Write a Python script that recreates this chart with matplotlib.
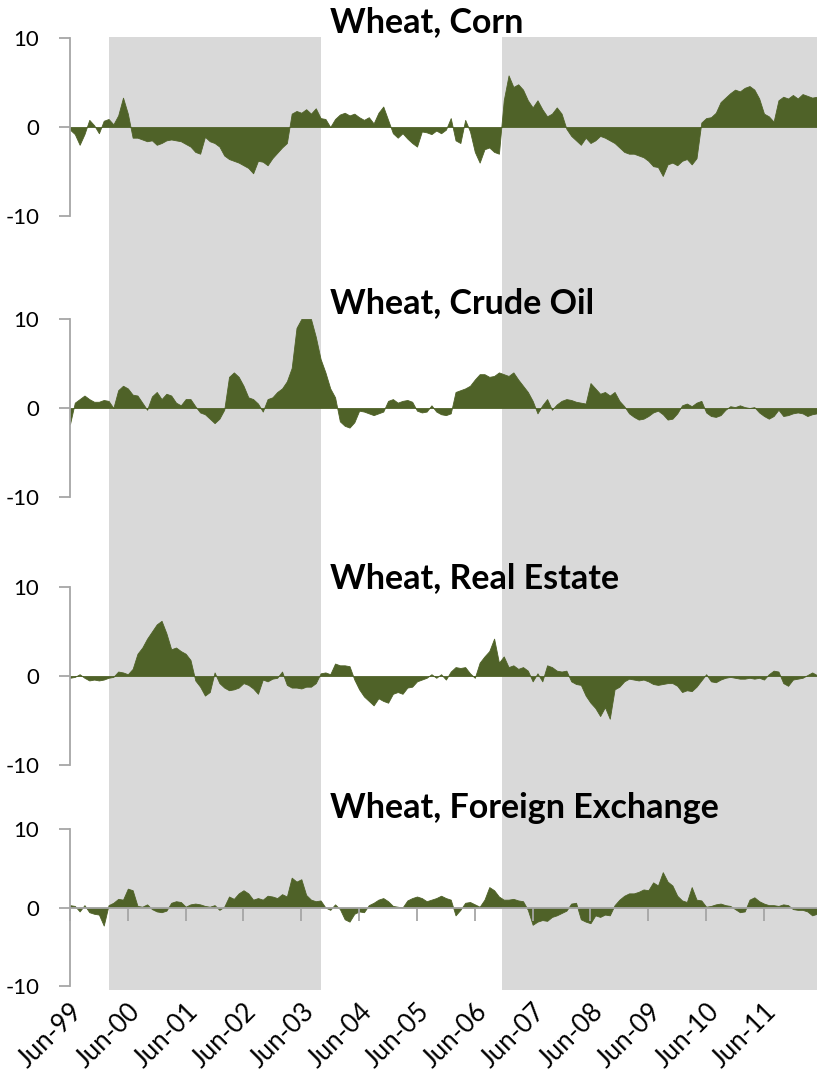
import numpy as np
import matplotlib
matplotlib.use("Agg")
import matplotlib.pyplot as plt

plt.rcParams["font.family"] = ["Lato", "DejaVu Sans"]
plt.rcParams["axes.unicode_minus"] = False

# months since Jun-99 (monthly readings)
months = np.arange(156)

corn = [
    -0.3, -0.8, -2.0, -0.8, 0.8, 0.2, -0.7, 0.7, 0.9, 0.3, 1.3, 3.3, 1.5, -1.2, -1.2, -1.4,
    -1.6, -1.5, -2.0, -1.8, -1.5, -1.4, -1.5, -1.6, -1.9, -2.2, -2.8, -3.0, -1.1, -1.6, -1.8, -2.2,
    -3.2, -3.6, -3.8, -4.0, -4.3, -4.6, -5.2, -3.8, -3.9, -4.3, -3.5, -2.9, -2.3, -1.8, 1.5, 1.8,
    1.6, 2.0, 1.5, 2.1, 1.0, 0.9, 0.0, 0.9, 1.4, 1.6, 1.3, 1.5, 1.1, 0.8, 1.1, 0.4,
    1.6, 2.3, 0.8, -0.7, -1.2, -0.7, -1.3, -1.8, -2.2, -0.5, -0.6, -0.8, -0.4, -0.7, -0.3, 1.0,
    -1.5, -1.8, 0.8, -0.5, -2.8, -4.0, -2.5, -2.3, -2.8, -3.0, 3.0, 5.8, 4.5, 4.8, 4.2, 3.0,
    2.2, 3.0, 2.0, 1.2, 1.5, 2.2, 1.5, -0.2, -1.0, -1.5, -2.0, -1.2, -1.8, -1.5, -1.0, -1.2,
    -1.5, -1.8, -2.3, -2.8, -3.0, -3.0, -3.2, -3.4, -3.8, -4.4, -4.5, -5.5, -4.2, -4.0, -4.3, -3.8,
    -3.6, -4.2, -3.5, 0.5, 1.0, 1.1, 1.6, 2.8, 3.3, 3.8, 4.2, 4.0, 4.4, 4.6, 4.2, 3.2,
    1.5, 1.2, 0.6, 3.0, 3.4, 3.2, 3.6, 3.2, 3.7, 3.5, 3.3, 3.4,
]

crude_oil = [
    -1.8, 0.6, 1.0, 1.4, 1.0, 0.7, 0.7, 0.9, 0.8, 0.0, 2.0, 2.5, 2.2, 1.5, 1.4, 0.6,
    -0.2, 1.3, 1.8, 1.0, 1.6, 1.4, 0.6, 0.3, 1.0, 1.0, 0.2, -0.5, -0.7, -1.2, -1.7, -1.2,
    -0.2, 3.5, 4.0, 3.5, 2.5, 1.2, 1.0, 0.5, -0.4, 1.0, 1.2, 1.8, 2.2, 3.0, 4.5, 9.0,
    10.0, 10.0, 10.0, 8.0, 5.5, 4.0, 2.2, 1.2, -1.5, -2.0, -2.2, -1.6, -0.3, -0.4, -0.6, -0.8,
    -0.6, -0.4, 0.8, 1.0, 0.6, 0.8, 0.9, 0.7, -0.3, -0.5, -0.4, 0.3, -0.4, -0.7, -0.8, -0.6,
    1.8, 2.0, 2.2, 2.5, 3.2, 3.8, 3.8, 3.5, 3.6, 4.0, 3.8, 3.6, 4.0, 3.2, 2.5, 1.8,
    0.8, -0.6, 0.3, 1.0, -0.2, 0.4, 0.8, 1.0, 0.9, 0.7, 0.6, 0.5, 2.8, 2.2, 1.6, 1.8,
    1.4, 1.8, 0.8, 0.2, -0.6, -1.0, -1.3, -1.2, -0.9, -0.5, -0.3, -0.7, -1.3, -1.2, -0.6, 0.3,
    0.5, 0.2, 0.6, 0.8, -0.5, -0.9, -1.0, -0.8, -0.2, 0.2, 0.1, 0.3, 0.1, 0.0, 0.1, -0.5,
    -0.9, -1.2, -0.9, -0.2, -0.9, -0.8, -0.6, -0.5, -0.6, -0.9, -0.7, -0.6,
]

real_estate = [
    -0.2, -0.1, 0.2, -0.2, -0.5, -0.4, -0.5, -0.4, -0.2, -0.1, 0.5, 0.4, 0.2, 0.8, 2.5, 3.2,
    4.2, 5.0, 5.8, 6.2, 4.8, 3.0, 3.2, 2.8, 2.5, 1.8, -0.5, -1.2, -2.2, -1.8, 0.4, -0.8,
    -1.3, -1.6, -1.5, -1.3, -0.8, -1.0, -1.4, -2.0, -0.4, -0.6, -0.3, -0.2, 0.5, -1.0, -1.3, -1.3,
    -1.4, -1.2, -1.2, -0.8, 0.3, 0.4, 0.2, 1.4, 1.2, 1.2, 1.1, -0.4, -1.5, -2.3, -2.8, -3.3,
    -2.5, -2.8, -3.0, -2.0, -1.8, -2.0, -1.3, -1.2, -0.6, -0.4, -0.2, 0.2, -0.2, 0.2, -0.4, 0.5,
    1.0, 0.9, 1.0, 0.3, -0.2, 1.5, 2.2, 2.8, 4.2, 1.5, 2.2, 1.0, 1.2, 0.8, 1.0, 0.6,
    -0.6, 0.3, -0.6, 1.2, 1.0, 0.6, 0.5, 0.6, -0.6, -0.9, -1.0, -2.2, -3.0, -3.6, -4.5, -3.5,
    -4.8, -1.5, -1.2, -0.6, -0.3, -0.4, -0.5, -0.4, -0.6, -0.9, -1.0, -0.9, -0.8, -0.8, -1.1, -1.8,
    -1.6, -1.7, -1.2, -0.5, 0.2, -0.6, -0.7, -0.4, -0.2, -0.1, -0.2, -0.3, -0.3, -0.2, -0.3, -0.2,
    -0.4, 0.2, 0.6, 0.5, -0.8, -1.1, -0.4, -0.3, -0.2, 0.1, 0.4, 0.1,
]

fx = [
    0.3, 0.2, -0.5, 0.3, -0.6, -0.8, -0.9, -2.3, 0.3, 0.6, 1.1, 1.0, 2.4, 2.2, 0.2, 0.1,
    0.4, -0.2, -0.5, -0.6, -0.4, 0.6, 0.8, 0.7, 0.1, 0.4, 0.5, 0.4, 0.2, 0.1, 0.3, -0.3,
    0.1, 1.4, 1.1, 1.8, 2.2, 1.8, 1.0, 1.2, 1.0, 1.5, 1.4, 1.2, 1.7, 1.4, 3.8, 3.3,
    3.6, 1.6, 1.0, 0.8, 0.9, 0.0, -0.3, 0.4, -0.2, -1.5, -1.8, -0.8, -0.5, -0.6, 0.3, 0.6,
    1.0, 1.2, 0.8, 0.2, 0.1, 0.0, 0.9, 1.2, 1.4, 1.2, 0.8, 1.0, 1.2, 1.5, 1.2, 1.0,
    -1.0, -0.3, 0.6, 0.7, 0.4, 0.1, 1.0, 2.6, 2.2, 1.4, 1.0, 1.0, 1.1, 0.9, 0.8, -0.3,
    -2.2, -1.8, -1.6, -1.7, -1.2, -1.0, -0.7, -0.4, 0.5, 0.6, -1.5, -1.8, -2.0, -1.0, -1.2, -0.9,
    -1.0, 0.3, 1.0, 1.5, 1.8, 1.8, 2.0, 2.3, 2.2, 3.2, 2.8, 4.5, 3.3, 2.8, 1.5, 0.9,
    0.7, 2.6, 1.0, 0.9, 0.1, 0.2, 0.4, 0.5, 0.3, 0.2, -0.2, -0.6, -0.5, 1.0, 1.3, 0.8,
    0.5, 0.3, 0.3, 0.2, 0.4, 0.3, -0.2, -0.3, -0.3, -0.5, -1.0, -0.8,
]

titles = ["Wheat, Corn", "Wheat, Crude Oil", "Wheat, Real Estate", "Wheat, Foreign Exchange"]
series = [corn, crude_oil, real_estate, fx]

# shaded periods, in months since Jun-99 (Feb-00 to Oct-03, Dec-06 to end)
shade_periods = [(8.1, 52.1), (89.6, 155)]

tick_months = np.arange(0, 145, 12)
tick_labels = ["Jun-%02d" % ((99 + i) % 100) for i in range(13)]

W, H = 817, 1074
fig = plt.figure(figsize=(W / 100, H / 100), dpi=100)

left = 70 / W
width = 1 - left
xlim = (0, 155)
green = "#4F6228"
axis_grey = "#A6A6A6"

# background shading across all panels
bg = fig.add_axes([left, 1 - 990 / H, width, (990 - 37) / H], zorder=0)
bg.set_xlim(*xlim)
for a, b in shade_periods:
    bg.axvspan(a, b, color="#D9D9D9", lw=0)
bg.axis("off")

# panel positions in pixels (top, bottom)
panel_px = [(38, 216), (319, 497), (587, 765), (829, 986)]
title_y = [22, 303, 578, 808]

for i, (vals, title) in enumerate(zip(series, titles)):
    top, bot = panel_px[i]
    ax = fig.add_axes([left, 1 - bot / H, width, (bot - top) / H], zorder=2)
    ax.set_facecolor("none")
    ax.fill_between(months, 0, vals, color=green, lw=0.6, edgecolor=green)
    ax.set_xlim(*xlim)
    ax.set_ylim(-10, 10)
    ax.set_yticks([-10, 0, 10])
    ax.tick_params(axis="y", direction="out", length=8, width=1.3, color=axis_grey,
                   labelsize=16, pad=14)
    for s in ["top", "right"]:
        ax.spines[s].set_visible(False)
    ax.spines["left"].set_color(axis_grey)
    ax.spines["left"].set_linewidth(1.3)
    if i < 3:
        ax.spines["bottom"].set_visible(False)
        ax.set_xticks([])
    else:
        ax.spines["bottom"].set_position(("data", 0))
        ax.spines["bottom"].set_color(axis_grey)
        ax.spines["bottom"].set_linewidth(1.3)
        ax.set_xticks(tick_months)
        ax.set_xticklabels([])
        ax.tick_params(axis="x", direction="out", length=9, width=1.3, color=axis_grey)
        sec = ax.secondary_xaxis("bottom")
        sec.set_xticks(tick_months)
        sec.set_xticklabels(tick_labels, rotation=45, ha="right", rotation_mode="anchor")
        sec.tick_params(axis="x", length=0, labelsize=18.5, pad=9)
        sec.spines["bottom"].set_visible(False)
    fig.text(330 / W, 1 - title_y[i] / H, title, fontsize=24.5, fontweight="bold",
             ha="left", va="center")

fig.savefig("out.png", dpi=100)
